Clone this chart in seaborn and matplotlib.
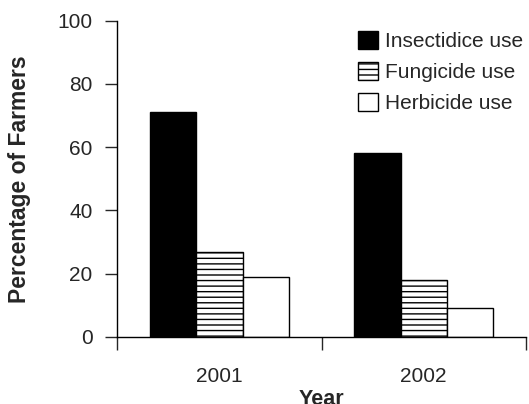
import pandas as pd
import seaborn as sns
import matplotlib.pyplot as plt
from matplotlib.patches import Patch

years = ['2001', '2002']
series = ['Insectidice use', 'Fungicide use', 'Herbicide use']
insecticide = [71, 58]
fungicide = [27, 18]
herbicide = [19, 9]

df = pd.DataFrame({
    'Year': years * 3,
    'Use': [series[0]] * 2 + [series[1]] * 2 + [series[2]] * 2,
    'Percentage of Farmers': insecticide + fungicide + herbicide,
})

sns.set_style('white')
plt.rcParams['font.family'] = ['Liberation Sans', 'DejaVu Sans']
plt.rcParams['hatch.linewidth'] = 1.0

fig = plt.figure(figsize=(5.29, 4.04), dpi=100)
ax = fig.add_axes([0.222, 0.166, 0.772, 0.783])

sns.barplot(data=df, x='Year', y='Percentage of Farmers', hue='Use',
            hue_order=series, order=years, width=0.68, ax=ax, legend=False)

# black / horizontal stripes / empty, all with black edges
faces = {series[0]: ('black', ''), series[1]: ('white', '---'), series[2]: ('white', '')}
for cont, name in zip(ax.containers, series):
    fc, h = faces[name]
    for bar in cont:
        bar.set_facecolor(fc)
        bar.set_edgecolor('black')
        bar.set_linewidth(1.0)
        bar.set_hatch(h)

ax.set_ylim(0, 100)
ax.set_xlim(-0.5, 1.5)
ax.set_yticks(range(0, 101, 20))
ax.tick_params(axis='y', labelsize=15, length=9, width=1, direction='out', pad=9, left=True)
# tick marks sit between the year groups
ax.set_xticks([-0.5, 0.5, 1.5], minor=True)
ax.tick_params(axis='x', which='major', length=0, labelsize=15, pad=22)
ax.tick_params(axis='x', which='minor', length=9, width=1, direction='out', bottom=True)

for s in ['top', 'right']:
    ax.spines[s].set_visible(False)
for s in ['left', 'bottom']:
    ax.spines[s].set_color('black')
    ax.spines[s].set_linewidth(1.0)

ax.set_xlabel('Year', fontsize=15.5, fontweight='bold', labelpad=2)
ax.set_ylabel('Percentage of Farmers', fontsize=16.5, fontweight='bold', labelpad=19)

handles = [Patch(facecolor='black', edgecolor='black', label=series[0]),
           Patch(facecolor='white', edgecolor='black', hatch='---', label=series[1]),
           Patch(facecolor='white', edgecolor='black', label=series[2])]
ax.legend(handles=handles, loc='upper right', bbox_to_anchor=(1.02, 1.0), frameon=False,
          fontsize=15, handlelength=0.95, handleheight=0.95, handletextpad=0.35,
          labelspacing=0.52, borderpad=0)

plt.savefig('out.png', dpi=100)
